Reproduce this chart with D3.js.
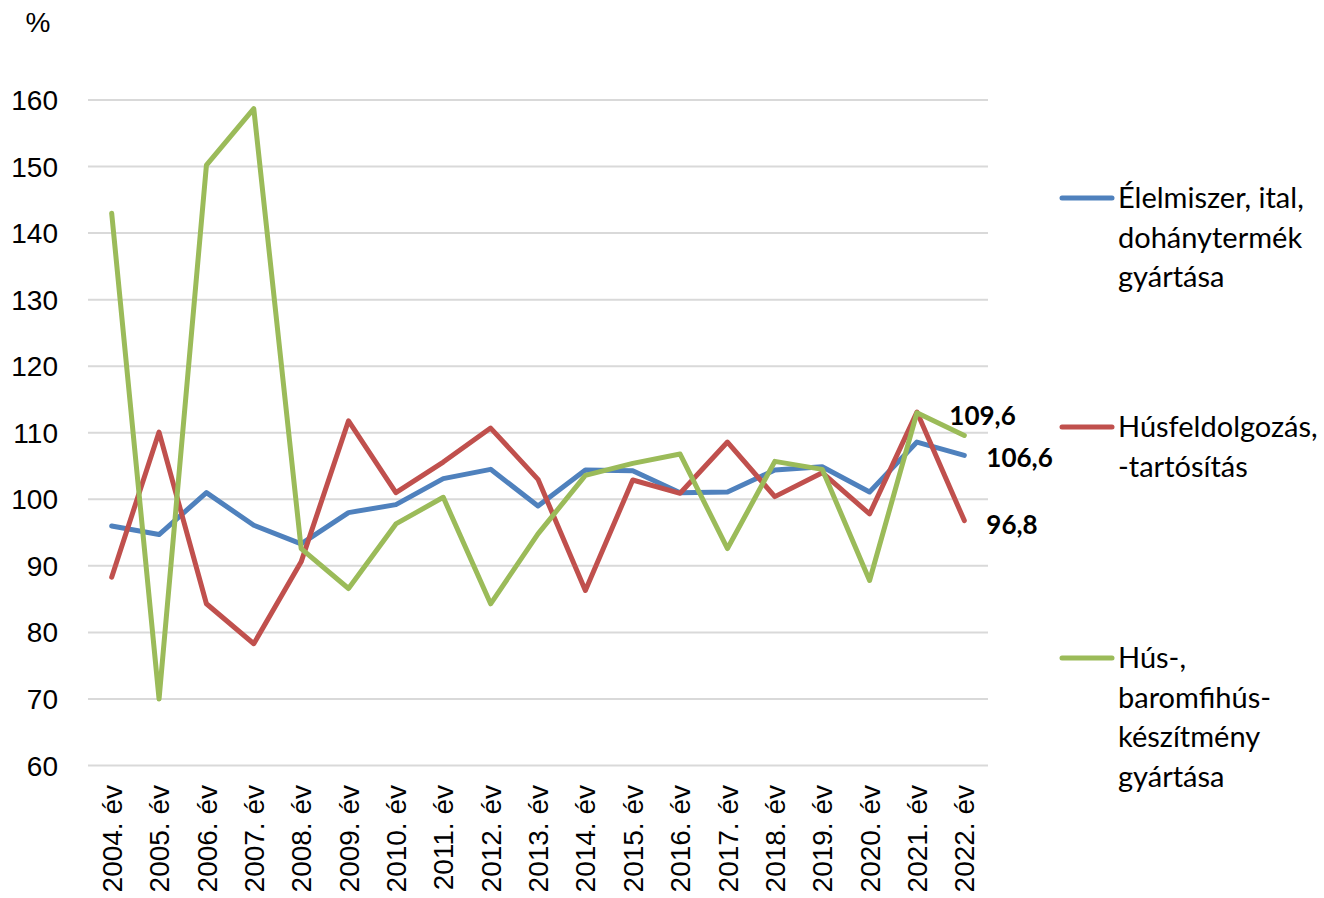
<!DOCTYPE html>
<html>
<head>
<meta charset="utf-8">
<script src="https://cdn.jsdelivr.net/npm/d3@7"></script>
<style>
  body { margin: 0; background: #fff; }
  .tick-label { font-family: "Liberation Sans", Arial, sans-serif; font-size: 28px; fill: #000; }
  .legend-text { font-family: Lato, "Open Sans", sans-serif; font-size: 29px; fill: #000; }
  .value-label { font-family: Lato, "Open Sans", sans-serif; font-size: 26px; font-weight: bold; fill: #000; }
</style>
</head>
<body>
<svg id="chart"></svg>
<script>
// categories and series
const years = ["2004. év", "2005. év", "2006. év", "2007. év", "2008. év", "2009. év", "2010. év",
  "2011. év", "2012. év", "2013. év", "2014. év", "2015. év", "2016. év", "2017. év", "2018. év",
  "2019. év", "2020. év", "2021. év", "2022. év"];

const elelmiszer = [96.0, 94.7, 101.0, 96.1, 93.3, 98.0, 99.2, 103.1, 104.5, 99.0, 104.4, 104.3,
  101.0, 101.1, 104.4, 104.9, 101.1, 108.6, 106.6];
const husfeldolgozas = [88.3, 110.1, 84.3, 78.3, 90.6, 111.8, 101.0, 105.6, 110.7, 103.0, 86.3, 102.9,
  100.9, 108.6, 100.4, 104.0, 97.8, 113.1, 96.8];
const huskeszitmeny = [143.0, 70.0, 150.2, 158.7, 92.6, 86.6, 96.3, 100.3, 84.3, 94.8, 103.6, 105.4,
  106.8, 92.6, 105.7, 104.5, 87.8, 113.0, 109.6];

const yTicks = [60, 70, 80, 90, 100, 110, 120, 130, 140, 150, 160];

const seriesNames = [
  ["Élelmiszer, ital,", "dohánytermék", "gyártása"],
  ["Húsfeldolgozás,", "-tartósítás"],
  ["Hús-,", "baromfihús-", "készítmény", "gyártása"]
];

const series = [
  { name: seriesNames[0], values: elelmiszer, color: "#4f81bd", legendY: 198, labelDx: 22, labelDy: 3 },
  { name: seriesNames[1], values: husfeldolgozas, color: "#c0504d", legendY: 427, labelDx: 22, labelDy: 4 },
  { name: seriesNames[2], values: huskeszitmeny, color: "#9bbb59", legendY: 658, labelDx: -15, labelDy: -20 }
];

const width = 1324, height = 898;
const plot = { left: 88, right: 988, top: 100, bottom: 765.5 };

const svg = d3.select("#chart")
  .attr("width", width)
  .attr("height", height);

const x = d3.scalePoint().domain(years).range([plot.left, plot.right]).padding(0.5);
const y = d3.scaleLinear().domain([60, 160]).range([plot.bottom, plot.top]);

// gridlines
svg.append("g")
  .selectAll("line")
  .data(yTicks)
  .join("line")
  .attr("x1", plot.left)
  .attr("x2", plot.right)
  .attr("y1", d => y(d))
  .attr("y2", d => y(d))
  .attr("stroke", "#d9d9d9")
  .attr("stroke-width", 2);

// y axis labels
svg.append("g")
  .selectAll("text")
  .data(yTicks)
  .join("text")
  .attr("class", "tick-label")
  .attr("x", 58)
  .attr("y", d => y(d))
  .attr("dy", "0.36em")
  .attr("text-anchor", "end")
  .text(d => d);

svg.append("text")
  .attr("class", "tick-label")
  .attr("x", 38)
  .attr("y", 22)
  .attr("dy", "0.36em")
  .attr("text-anchor", "middle")
  .text("%");

// x axis labels (rotated)
svg.append("g")
  .selectAll("text")
  .data(years)
  .join("text")
  .attr("class", "tick-label")
  .attr("transform", d => `translate(${x(d)},785) rotate(-90)`)
  .attr("dy", "0.36em")
  .attr("text-anchor", "end")
  .text(d => d);

// lines
const line = d3.line()
  .x((d, i) => x(years[i]))
  .y(d => y(d));

svg.append("g")
  .selectAll("path")
  .data(series)
  .join("path")
  .attr("d", d => line(d.values))
  .attr("fill", "none")
  .attr("stroke", d => d.color)
  .attr("stroke-width", 5)
  .attr("stroke-linejoin", "round")
  .attr("stroke-linecap", "round");

// value labels on the last point
svg.append("g")
  .selectAll("text")
  .data(series)
  .join("text")
  .attr("class", "value-label")
  .attr("x", d => x(years[years.length - 1]) + d.labelDx)
  .attr("y", d => y(d.values[d.values.length - 1]) + d.labelDy)
  .attr("dy", "0.35em")
  .text(d => d3.format(".1f")(d.values[d.values.length - 1]).replace(".", ","));

// legend
const legend = svg.append("g")
  .selectAll("g")
  .data(series)
  .join("g")
  .attr("transform", d => `translate(1060,${d.legendY})`);

legend.append("line")
  .attr("x1", 2)
  .attr("x2", 52)
  .attr("stroke", d => d.color)
  .attr("stroke-width", 5)
  .attr("stroke-linecap", "round");

legend.append("text")
  .attr("class", "legend-text")
  .selectAll("tspan")
  .data(d => d.name)
  .join("tspan")
  .attr("x", 58)
  .attr("y", (d, i) => i * 39.5)
  .attr("dy", "0.35em")
  .text(d => d);
</script>
</body>
</html>
